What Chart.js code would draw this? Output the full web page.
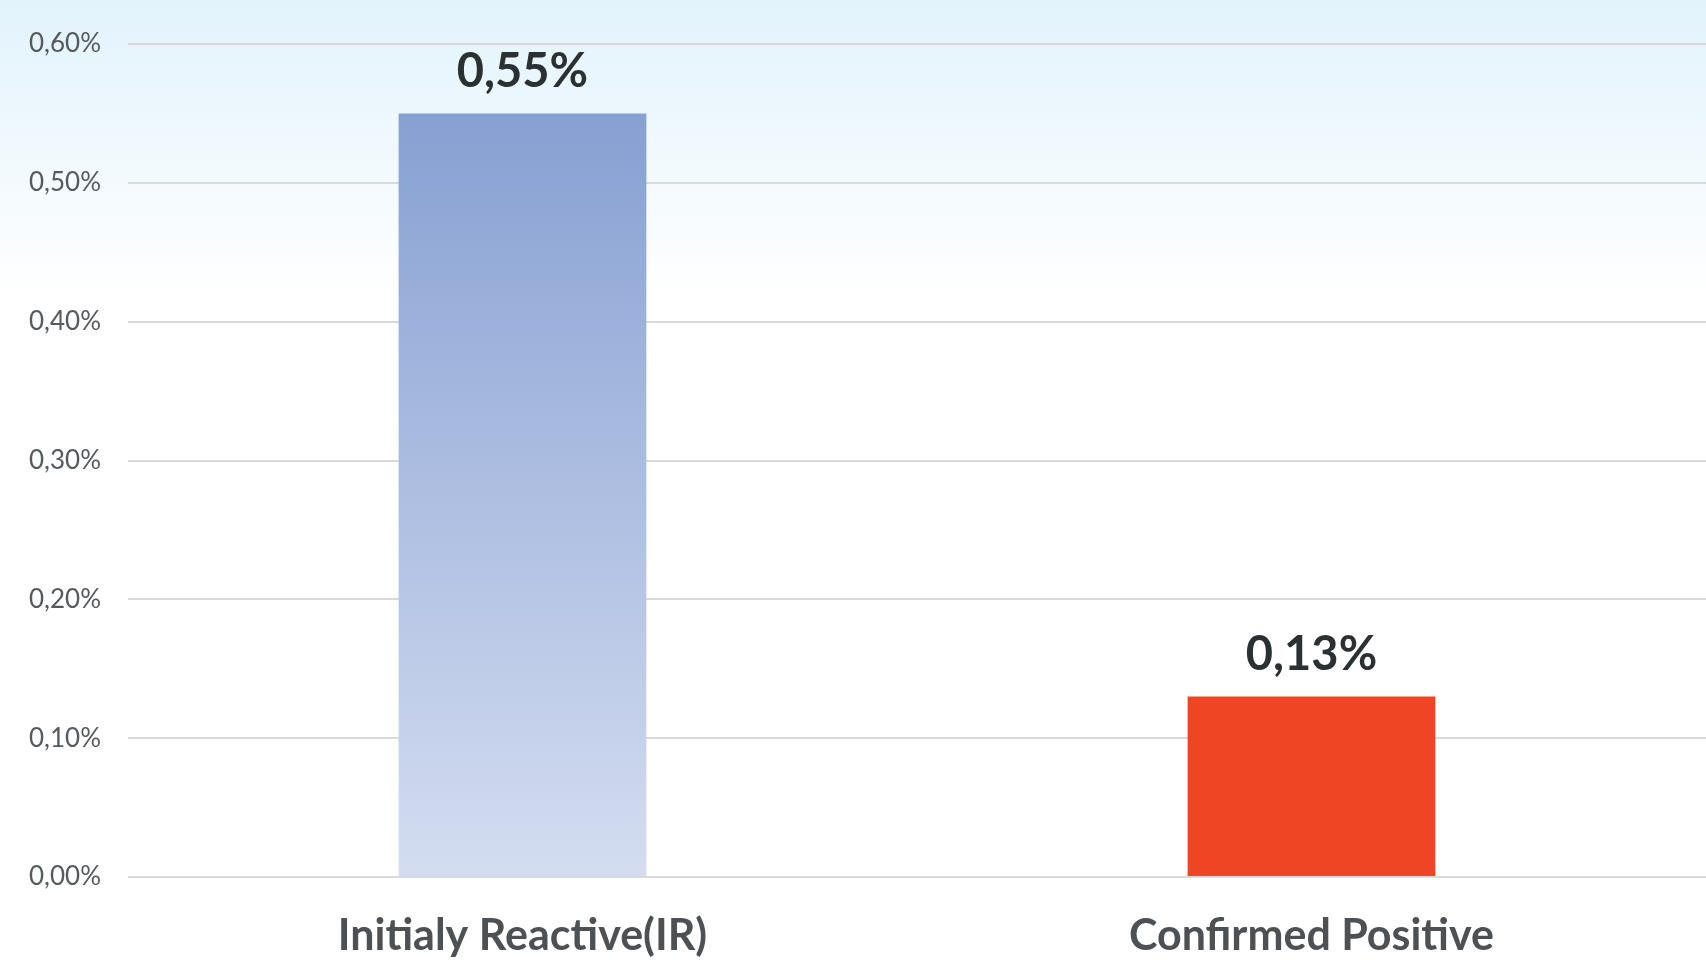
<!DOCTYPE html>
<html>
<head>
<meta charset="utf-8">
<script src="https://cdn.jsdelivr.net/npm/chart.js@4"></script>
<style>
  html, body { margin: 0; padding: 0; background: #fff; }
  #wrap { width: 1706px; height: 970px; }
</style>
</head>
<body>
<div id="wrap"><canvas id="rateChart"></canvas></div>
<script>
const categories = ['Initialy Reactive(IR)', 'Confirmed Positive']
const rates = [0.55, 0.13]
const yTicks = [0, 0.1, 0.2, 0.3, 0.4, 0.5, 0.6]

const fmt = (v, digits) => v.toFixed(digits).replace('.', ',') + '%'

// light blue wash at the top of the picture
const backdrop = {
    id: 'backdrop',
    beforeDraw(chart) {
        const {ctx, width, height} = chart
        const g = ctx.createLinearGradient(0, 0, 0, 300)
        g.addColorStop(0, '#e2f3fc')
        g.addColorStop(1, '#ffffff')
        ctx.save()
        ctx.fillStyle = '#ffffff'
        ctx.fillRect(0, 0, width, height)
        ctx.fillStyle = g
        ctx.fillRect(0, 0, width, 300)
        ctx.restore()
    }
}

const valueLabels = {
    id: 'valueLabels',
    afterDatasetsDraw(chart) {
        const {ctx} = chart
        const meta = chart.getDatasetMeta(0)
        ctx.save()
        ctx.font = 'bold 47px Lato'
        ctx.fillStyle = '#2b3033'
        ctx.textAlign = 'center'
        ctx.textBaseline = 'middle'
        meta.data.forEach((bar, i) => {
            ctx.fillText(fmt(rates[i], 2), bar.x, bar.y - 42)
        })
        ctx.restore()
    }
}

const barFill = (context) => {
    const {chart, dataIndex} = context
    if (dataIndex === 1) return '#f04525'
    const area = chart.chartArea
    if (!area) return '#9fb2dc'
    const y = chart.scales.y
    const g = chart.ctx.createLinearGradient(0, y.getPixelForValue(rates[0]), 0, area.bottom)
    g.addColorStop(0, '#87a0d2')
    g.addColorStop(1, '#d4ddf1')
    return g
}

new Chart(document.getElementById('rateChart'), {
    type: 'bar',
    data: {
        labels: categories,
        datasets: [{
            data: rates,
            backgroundColor: barFill,
            categoryPercentage: 1,
            barPercentage: 0.314
        }]
    },
    plugins: [backdrop, valueLabels],
    options: {
        responsive: true,
        maintainAspectRatio: false,
        animation: false,
        layout: {padding: {top: 44, left: 2, right: 0, bottom: 0}},
        plugins: {legend: {display: false}, tooltip: {enabled: false}},
        scales: {
            x: {
                grid: {display: false, drawTicks: false},
                border: {display: false},
                afterFit: (scale) => { scale.height = 93 },
                ticks: {
                    padding: 33,
                    color: '#4d5154',
                    font: {family: 'Lato', size: 43, weight: 'bold'}
                }
            },
            y: {
                min: 0,
                max: 0.6,
                afterBuildTicks: (axis) => { axis.ticks = yTicks.map(v => ({value: v})) },
                grid: {color: '#d9d9d9', lineWidth: 2, drawTicks: false},
                border: {display: false},
                ticks: {
                    padding: 27,
                    color: '#555a5e',
                    font: {family: 'Lato', size: 26},
                    callback: (v) => fmt(v * 1, 2)
                }
            }
        }
    }
})
</script>
</body>
</html>
